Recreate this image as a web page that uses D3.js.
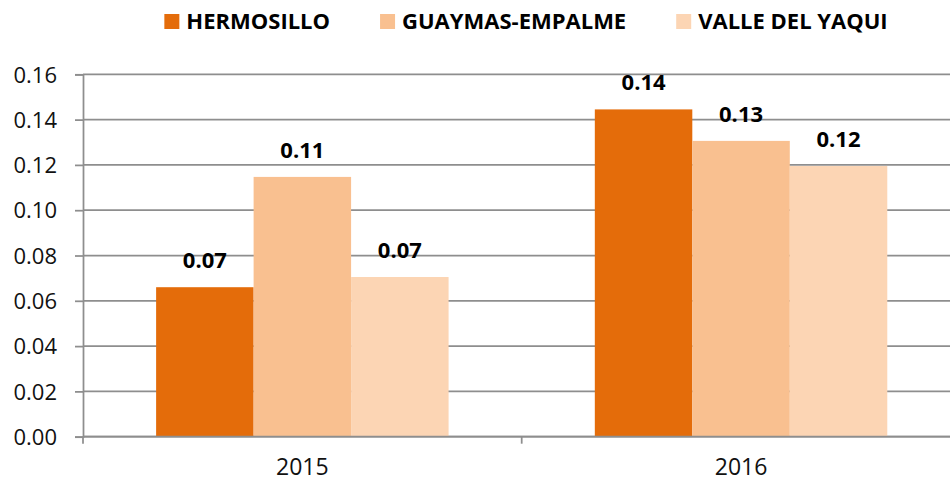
<!DOCTYPE html>
<html>
<head>
<meta charset="utf-8">
<script src="https://cdn.jsdelivr.net/npm/d3@7"></script>
<style>
  body { margin: 0; background: #fff; }
  svg { display: block; font-family: "Open Sans", sans-serif; }
</style>
</head>
<body>
<div id="chart"></div>
<script>
const years = ["2015", "2016"];
const seriesNames = ["HERMOSILLO", "GUAYMAS-EMPALME", "VALLE DEL YAQUI"];
const hermosillo = [0.066, 0.1445];
const guaymas = [0.1147, 0.1306];
const valle = [0.0705, 0.1195];
const yTicks = [0, 0.02, 0.04, 0.06, 0.08, 0.1, 0.12, 0.14, 0.16];

const colors = ["#e46c0a", "#f9c090", "#fcd5b4"];
const seriesValues = [hermosillo, guaymas, valle];

const width = 950;
const height = 481;
const margin = { top: 74.3, left: 83, bottom: 44.3 };
const plotRight = 960.4; // plot area runs a little past the window

const svg = d3
  .select("#chart")
  .append("svg")
  .attr("width", width)
  .attr("height", height);

const x0 = d3.scaleBand().domain(years).range([margin.left, plotRight]);

const x1 = d3
  .scaleBand()
  .domain(seriesNames)
  .range([0, x0.bandwidth()])
  .paddingInner(0)
  .paddingOuter(0.75);

const y = d3
  .scaleLinear()
  .domain([0, 0.16])
  .range([height - margin.bottom, margin.top]);

// gridlines
svg
  .append("g")
  .selectAll("line")
  .data(yTicks)
  .enter()
  .append("line")
  .attr("x1", margin.left)
  .attr("x2", plotRight)
  .attr("y1", (d) => y(d))
  .attr("y2", (d) => y(d))
  .attr("stroke", "#8e8e8e")
  .attr("stroke-width", 1.75);

// bars
let rows = [];
years.forEach((yr, i) => {
  seriesNames.forEach((s, j) => {
    rows.push({ year: yr, series: s, value: seriesValues[j][i], color: colors[j] });
  });
});

svg
  .append("g")
  .selectAll("rect")
  .data(rows)
  .enter()
  .append("rect")
  .attr("x", (d) => x0(d.year) + x1(d.series))
  .attr("y", (d) => y(d.value))
  .attr("width", x1.bandwidth())
  .attr("height", (d) => y(0) - y(d.value))
  .attr("fill", (d) => d.color);

// value labels
svg
  .append("g")
  .selectAll("text")
  .data(rows)
  .enter()
  .append("text")
  .attr("x", (d) => x0(d.year) + x1(d.series) + x1.bandwidth() / 2)
  .attr("y", (d) => y(d.value) - 19)
  .attr("text-anchor", "middle")
  .style("font-size", "22px")
  .style("font-weight", "700")
  .attr("fill", "#000")
  .text((d) => d3.format(".2f")(d.value));

// y axis
const yAxis = svg
  .append("g")
  .attr("transform", `translate(${margin.left},0)`)
  .call(
    d3
      .axisLeft(y)
      .tickValues(yTicks)
      .tickFormat(d3.format(".2f"))
      .tickSize(8)
      .tickPadding(18)
  );
yAxis.select(".domain").attr("stroke", "#8e8e8e").attr("stroke-width", 1.75);
yAxis.selectAll(".tick line").attr("stroke", "#8e8e8e").attr("stroke-width", 1.75);
yAxis
  .selectAll(".tick text")
  .style("font-size", "22px")
  .style("font-family", "'Open Sans', sans-serif")
  .attr("fill", "#111")
  .attr("dy", "0.35em");

// x axis
const xAxis = svg.append("g").attr("transform", `translate(0,${y(0)})`);
xAxis
  .append("line")
  .attr("x1", margin.left)
  .attr("x2", plotRight)
  .attr("stroke", "#8e8e8e")
  .attr("stroke-width", 1.75);

const bounds = years.map((yr) => x0(yr)).concat([plotRight]);
xAxis
  .selectAll(".bound")
  .data(bounds)
  .enter()
  .append("line")
  .attr("class", "bound")
  .attr("x1", (d) => d)
  .attr("x2", (d) => d)
  .attr("y1", 0)
  .attr("y2", 7)
  .attr("stroke", "#8e8e8e")
  .attr("stroke-width", 1.75);

xAxis
  .selectAll(".cat")
  .data(years)
  .enter()
  .append("text")
  .attr("class", "cat")
  .attr("x", (d) => x0(d) + x0.bandwidth() / 2)
  .attr("y", 38)
  .attr("text-anchor", "middle")
  .style("font-size", "23px")
  .attr("fill", "#111")
  .text((d) => d);

// legend
const legend = svg.append("g");
let lx = 0;
const items = [];
seriesNames.forEach((s, i) => {
  let g = legend.append("g");
  g.append("rect")
    .attr("width", 15)
    .attr("height", 15)
    .attr("fill", colors[i]);
  let t = g
    .append("text")
    .attr("x", 22)
    .attr("y", 15)
    .style("font-size", "22px")
    .style("font-weight", "700")
    .attr("fill", "#000")
    .text(s);
  items.push({ g: g, w: 22 + t.node().getComputedTextLength() });
});
items.forEach((it) => {
  it.g.attr("transform", `translate(${lx},0)`);
  lx += it.w + 50;
});
const legendWidth = lx - 50;
legend.attr("transform", `translate(${526 - legendWidth / 2},${14})`);
</script>
</body>
</html>
